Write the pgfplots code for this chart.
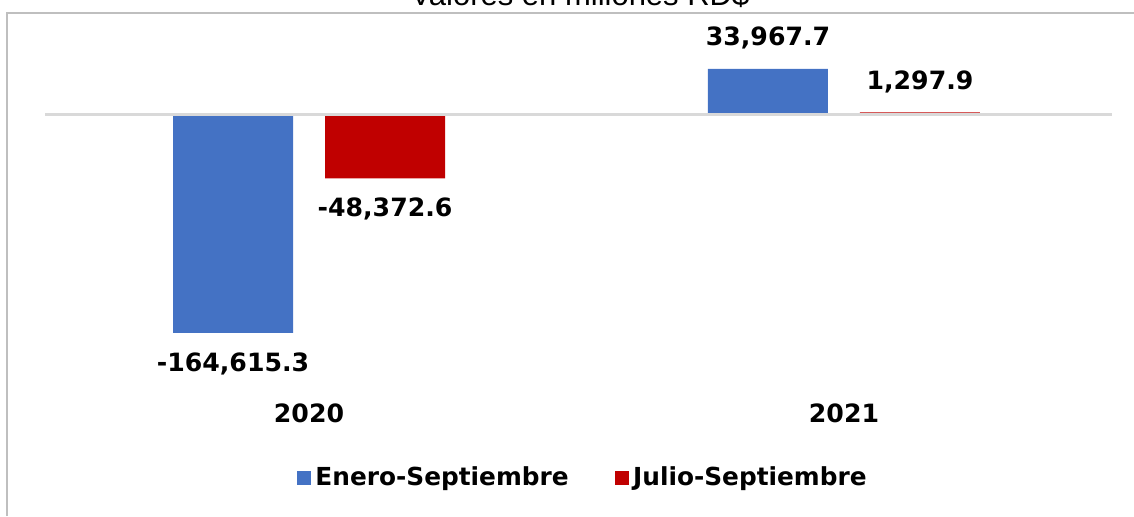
\documentclass[border=0pt]{standalone}
\usepackage{fontspec}
\setmainfont{DejaVu Sans}
\newfontfamily\arialfont{Liberation Sans}
\usepackage{pgfplots}
\pgfplotsset{compat=1.18}
\definecolor{barblue}{HTML}{4472C4}
\definecolor{barred}{HTML}{C00000}
\definecolor{zeroline}{HTML}{D9D9D9}
\definecolor{framegray}{HTML}{BFBFBF}
\begin{document}
\begin{tikzpicture}
% outer chart frame (left and top edges only are visible)
\draw[framegray, line width=1pt] (3.5pt,0pt) -- (3.5pt,251.5pt) -- (567pt,251.5pt);
\node[anchor=base, font=\arialfont\fontsize{15.5}{18}\selectfont, inner sep=0pt] at (290pt,255.5pt) {Valores en millones RD\$};
\begin{axis}[
  at={(22.5pt,85.5pt)}, anchor=south west,
  scale only axis, width=533.5pt, height=162.5pt,
  xmin=-0.4935, xmax=1.501, ymin=-173712, ymax=70688,
  ybar=16pt, bar width=60pt,
  axis line style={draw=none},
  ytick=\empty, xtick={0,1}, xticklabels={2020,2021},
  major tick length=0pt,
  xticklabel style={font=\bfseries\fontsize{12.6}{15}\selectfont, yshift=-26pt},
  clip=false,
  point meta=y,
  nodes near coords={\pgfmathprintnumber[fixed, fixed zerofill, precision=1, 1000 sep={,}, assume math mode=true]{\pgfplotspointmeta}},
  nodes near coords align=vertical,
  every node near coord/.append style={font=\bfseries\fontsize{12.6}{15}\selectfont, inner ysep=9.5pt},
  legend style={at={(0.505,-0.409)}, anchor=center, draw=none, fill=none,
    legend columns=2, font=\bfseries\fontsize{12.4}{15}\selectfont,
    /tikz/every even column/.append style={column sep=21pt}},
  legend image code/.code={\fill[#1] (0pt,-3.7pt) rectangle (7.2pt,3.7pt);},
]
\addplot[fill=barblue, draw=none] coordinates {(0,-164615.3) (1,33967.7)};
\addlegendentry{Enero-Septiembre}
\addplot[fill=barred, draw=none] coordinates {(0,-48372.6) (1,1297.9)};
\addlegendentry{Julio-Septiembre}
\draw[zeroline, line width=1.5pt] (axis cs:-0.4935,0) -- (axis cs:1.501,0);
\end{axis}
\pgfresetboundingbox
\useasboundingbox (0,0) rectangle (567pt,258pt);
\end{tikzpicture}
\end{document}
